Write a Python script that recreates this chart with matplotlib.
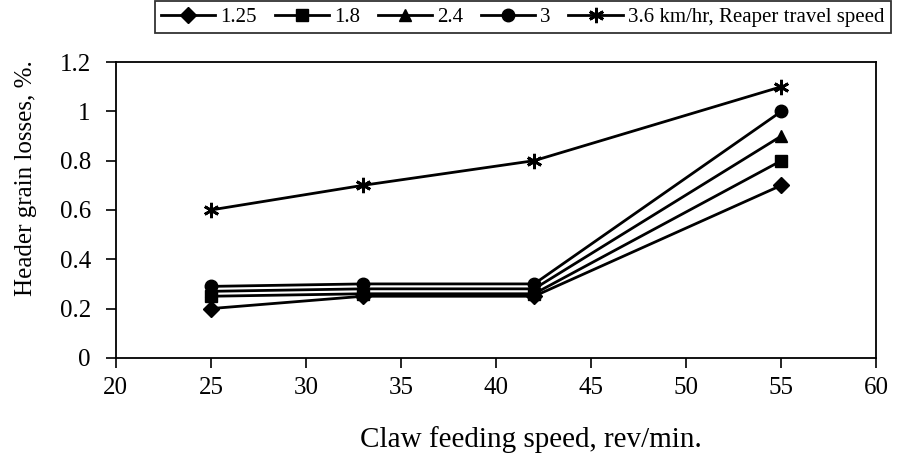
import matplotlib
matplotlib.use("Agg")
import matplotlib.pyplot as plt

plt.rcParams['font.family'] = ['Liberation Serif', 'DejaVu Serif']

# Claw feeding speed, rev/min
feed_speed = [25, 33, 42, 55]

# Header grain losses (%) per reaper travel speed (km/hr)
loss_125 = [0.20, 0.25, 0.25, 0.70]
loss_18 = [0.25, 0.26, 0.26, 0.80]
loss_24 = [0.27, 0.28, 0.28, 0.90]
loss_3 = [0.29, 0.30, 0.30, 1.00]
loss_36 = [0.60, 0.70, 0.80, 1.10]

series = [
    (loss_125, "1.25", "D", 8),
    (loss_18, "1.8", "s", 8),
    (loss_24, "2.4", "^", 9),
    (loss_3, "3", "o", 9),
    (loss_36, "3.6 km/hr, Reaper travel speed", (6, 2, 0), 11),
]

fig = plt.figure(figsize=(8.98, 4.53), dpi=100)
ax = fig.add_axes([0.129, 0.21, 0.847, 0.653])

for vals, lab, mk, ms in series:
    ax.plot(feed_speed, vals, color='black', lw=2.0, marker=mk, markersize=ms,
            markeredgewidth=2.0 if mk == (6, 2, 0) else 1.0, label=lab)

ax.set_xlim(20, 60)
ax.set_ylim(0, 1.2)
ax.set_xticks(range(20, 61, 5))
ax.set_yticks([0, 0.2, 0.4, 0.6, 0.8, 1.0, 1.2])
ax.set_yticklabels(["0", "0.2", "0.4", "0.6", "0.8", "1", "1.2"])
ax.tick_params(direction='out', length=7, width=1.2, labelsize=18)
ax.tick_params(axis='x', pad=7)
ax.tick_params(axis='y', pad=11)
for s in ax.spines.values():
    s.set_linewidth(1.3)

ax.set_xlabel("Claw feeding speed, rev/min.", fontsize=21)
ax.set_ylabel("Header grain losses, %.", fontsize=18)
ax.xaxis.set_label_coords(0.546, -0.232)
ax.yaxis.set_label_coords(-0.103, 0.608)

leg = fig.legend(loc='center', bbox_to_anchor=(0.582, 0.962), ncol=5,
                 fontsize=15, frameon=True, fancybox=False, edgecolor='black',
                 handlelength=2.6, columnspacing=0.85, handletextpad=0.25,
                 borderpad=0.3, borderaxespad=0)
leg.get_frame().set_linewidth(1.3)

fig.savefig("out.png", dpi=100)
